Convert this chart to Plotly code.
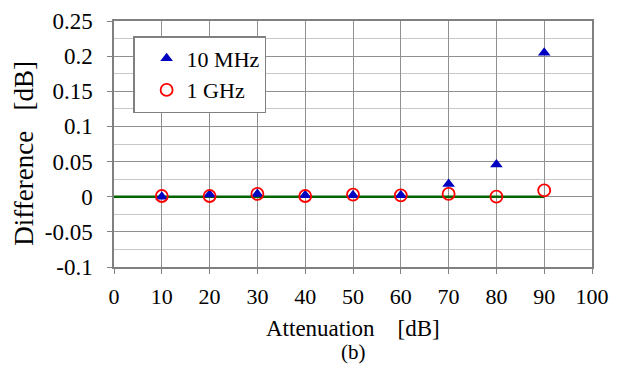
import plotly.graph_objects as go

attenuation = [10, 20, 30, 40, 50, 60, 70, 80, 90]
diff_10mhz = [0.000, 0.003, 0.004, 0.002, 0.002, 0.002, 0.018, 0.046, 0.205]
diff_1ghz = [0.001, 0.001, 0.004, 0.001, 0.003, 0.002, 0.004, 0.000, 0.009]
ref_x = [0, 90]
ref_y = [0, 0]
y_tickvals = [-0.1, -0.05, 0, 0.05, 0.1, 0.15, 0.2, 0.25]
y_ticktext = ["-0.1", "-0.05", "0", "0.05", "0.1", "0.15", "0.2", "0.25"]
x_tickvals = [0, 10, 20, 30, 40, 50, 60, 70, 80, 90, 100]

FONT = "Liberation Serif"

fig = go.Figure()
fig.add_trace(go.Scatter(x=ref_x, y=ref_y, mode="lines", line=dict(color="#006400", width=2.5),
                         showlegend=False, hoverinfo="skip"))
fig.add_trace(go.Scatter(x=attenuation, y=diff_10mhz, mode="markers", name="10 MHz",
                         marker=dict(symbol="triangle-up", size=11, color="#0000C0")))
fig.add_trace(go.Scatter(x=attenuation, y=diff_1ghz, mode="markers", name="1 GHz",
                         marker=dict(symbol="circle-open", size=12, color="#FF0000", line=dict(width=1.8))))

# page has an 8px body margin, so figure is shrunk by 8px and margins shifted
fig.update_layout(
    width=629, height=363,
    margin=dict(l=106, r=45, t=13, b=104, autoexpand=False),
    paper_bgcolor="white", plot_bgcolor="white",
    font=dict(family=FONT, size=22, color="black"),
    showlegend=True,
    legend=dict(x=0.04, y=0.939, xanchor="left", yanchor="top",
                bordercolor="#808080", borderwidth=1.5, bgcolor="white",
                font=dict(family=FONT, size=22, color="black"), tracegroupgap=0,
                itemwidth=30, indentation=12),
    xaxis=dict(range=[0, 100], tickvals=x_tickvals, showgrid=True, gridcolor="#909090", gridwidth=1,
               showline=True, linecolor="#808080", linewidth=1.5, mirror=True,
               ticks="outside", ticklen=5, tickcolor="#808080", ticklabelstandoff=4,
               zeroline=False, tickfont=dict(family=FONT, size=22, color="black")),
    yaxis=dict(range=[-0.1, 0.25], tickvals=y_tickvals, ticktext=y_ticktext,
               showgrid=True, gridcolor="#909090", gridwidth=1,
               showline=True, linecolor="#808080", linewidth=1.5, mirror=True,
               ticks="outside", ticklen=5, tickcolor="#808080", ticklabelstandoff=10,
               ticklabeloverflow="allow",
               zeroline=False, tickfont=dict(family=FONT, size=23, color="black"),
               minor=dict(dtick=0.025, tick0=0, showgrid=True, gridcolor="#C8C8C8", gridwidth=1, ticks="")),
    annotations=[
        dict(text="Attenuation    [dB]", x=0.5, y=-0.252, xref="paper", yref="paper",
             xanchor="center", yanchor="middle", showarrow=False, font=dict(family=FONT, size=23)),
        dict(text="(b)", x=0.5, y=-0.3455, xref="paper", yref="paper",
             xanchor="center", yanchor="middle", showarrow=False, font=dict(family=FONT, size=21)),
        dict(text="Difference   [dB]", x=-0.19, y=0.461, xref="paper", yref="paper",
             xanchor="center", yanchor="middle", showarrow=False, textangle=-90,
             font=dict(family=FONT, size=27)),
    ],
)

fig.write_html("out.html")
